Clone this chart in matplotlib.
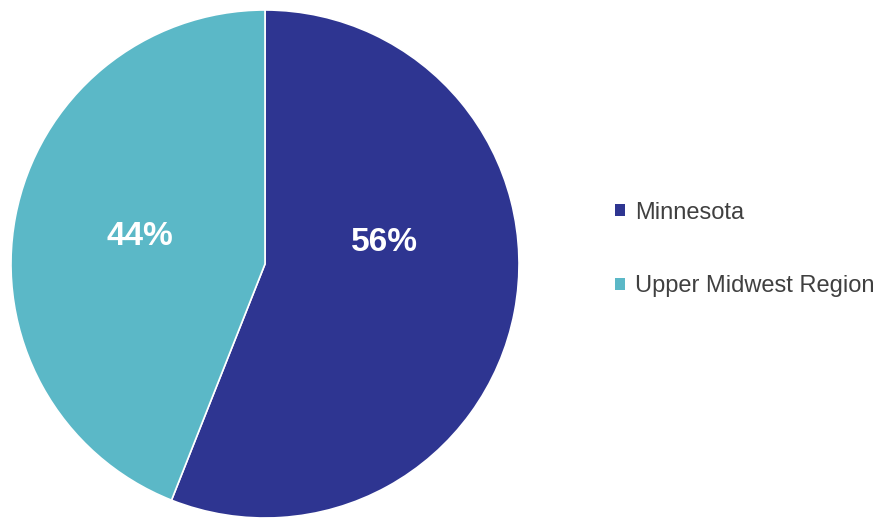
import matplotlib
matplotlib.use("Agg")
import matplotlib.pyplot as plt
from matplotlib.patches import Patch

plt.rcParams['font.family'] = ['Liberation Sans', 'DejaVu Sans']

categories = ["Minnesota", "Upper Midwest Region"]
shares = [56, 44]
colors = ["#2E3591", "#5BB8C7"]

W, H = 877, 518
fig = plt.figure(figsize=(W / 100, H / 100), dpi=100)

# pie axes: centre (265, 264) px from top-left, radius 254 px
cx, cy, r = 265, 264, 254
ax = fig.add_axes([(cx - r) / W, (H - cy - r) / H, 2 * r / W, 2 * r / H])

wedges, _, autotexts = ax.pie(
    shares, colors=colors, startangle=90, counterclock=False,
    autopct=lambda p: f"{p:.0f}%", radius=1.0,
    wedgeprops=dict(edgecolor="white", linewidth=1.2),
    textprops=dict(color="white", fontsize=24, fontweight="bold"),
)
ax.set_xlim(-1, 1)
ax.set_ylim(-1, 1)
ax.set_aspect("equal")

# label positions inside each slice
autotexts[0].set_position((0.472, 0.085))
autotexts[1].set_position((-0.492, 0.11))

handles = [Patch(facecolor=c, edgecolor="none") for c in colors]
fig.legend(
    handles, categories, loc="center left",
    bbox_to_anchor=(615 / W, 1 - 249.5 / H),
    frameon=False, fontsize=17, labelcolor="#404040",
    handlelength=0.42, handleheight=0.42, handletextpad=0.42,
    labelspacing=2.2, borderpad=0, borderaxespad=0,
)

fig.savefig("out.png", dpi=100, facecolor="white")
